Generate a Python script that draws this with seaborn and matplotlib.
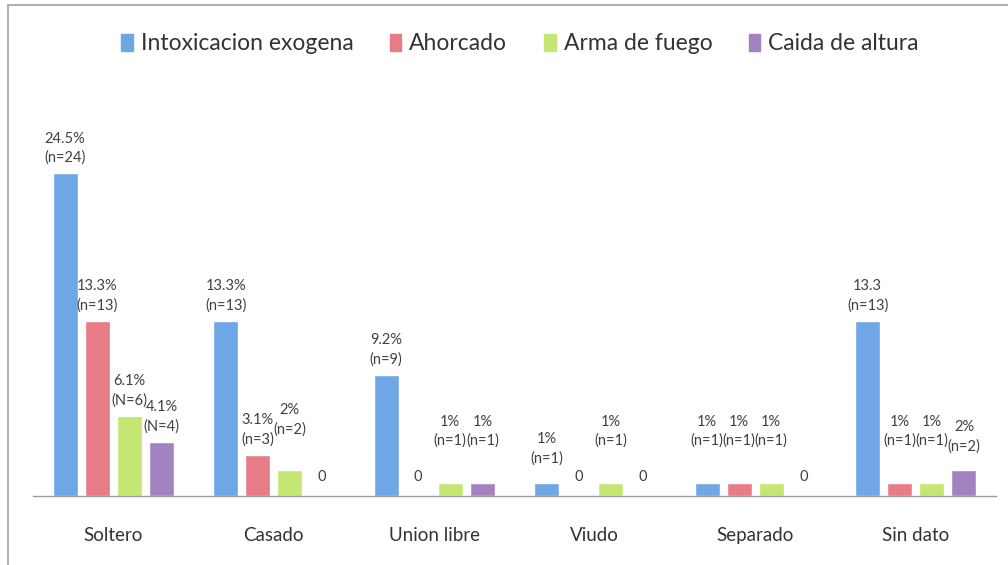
import numpy as np
import pandas as pd
import matplotlib
matplotlib.use("Agg")
import matplotlib.pyplot as plt
from matplotlib.lines import Line2D
import seaborn as sns

# Data (percent of cases)
estado_civil = ["Soltero", "Casado", "Union libre", "Viudo", "Separado", "Sin dato"]
metodos = ["Intoxicacion exogena", "Ahorcado", "Arma de fuego", "Caida de altura"]

intoxicacion = [24.5, 13.3, 9.2, 1, 1, 13.3]
ahorcado = [13.3, 3.1, 0, 0, 1, 1]
arma_fuego = [6.1, 2, 1, 1, 1, 1]
caida_altura = [4.1, 0, 1, 0, 0, 2]

etiq_intoxicacion = ["24.5%\n(n=24)", "13.3%\n(n=13)", "9.2%\n(n=9)", "1%\n(n=1)", "1%\n(n=1)", "13.3\n(n=13)"]
etiq_ahorcado = ["13.3%\n(n=13)", "3.1%\n(n=3)", "0", "0", "1%\n(n=1)", "1%\n(n=1)"]
etiq_arma = ["6.1%\n(N=6)", "2%\n(n=2)", "1%\n(n=1)", "1%\n(n=1)", "1%\n(n=1)", "1%\n(n=1)"]
etiq_caida = ["4.1%\n(N=4)", "0", "1%\n(n=1)", "0", "0", "2%\n(n=2)"]

colores = ["#6ea6e6", "#e77b86", "#c6e673", "#a283c0"]

# label heights in the original were nudged by hand
min_label_y = 3.0
label_overrides = {("Casado", "Arma de fuego"): 3.9,
                   ("Viudo", "Intoxicacion exogena"): 1.7,
                   ("Sin dato", "Caida de altura"): 2.6}

valores = [intoxicacion, ahorcado, arma_fuego, caida_altura]
etiquetas = [etiq_intoxicacion, etiq_ahorcado, etiq_arma, etiq_caida]

df = pd.DataFrame({
    "estado": estado_civil * len(metodos),
    "metodo": np.repeat(metodos, len(estado_civil)),
    "pct": np.concatenate(valores),
    "etiqueta": sum(etiquetas, []),
})

sns.set_theme(style="white")
plt.rcParams["font.family"] = ["Lato", "DejaVu Sans"]

fig = plt.figure(figsize=(10.08, 5.65), dpi=100)
ax = fig.add_axes([33 / 1008, 69 / 565, 963 / 1008, 395 / 565])

sns.barplot(data=df, x="estado", y="pct", hue="metodo", order=estado_civil,
            hue_order=metodos, palette=colores, width=0.8, gap=0.22,
            saturation=1, ax=ax, legend=False)

ax.set_ylim(0, 30)
ax.set_xlim(-0.5, len(estado_civil) - 0.5)
ax.set_xlabel("")
ax.set_ylabel("")
ax.set_yticks([])
for s in ["top", "right", "left"]:
    ax.spines[s].set_visible(False)
ax.spines["bottom"].set_color("#9a9a9a")
ax.spines["bottom"].set_linewidth(1.0)
ax.tick_params(axis="x", length=0, pad=22, labelsize=13.5, labelcolor="#333333")

# data labels
for j, metodo in enumerate(metodos):
    for i, estado in enumerate(estado_civil):
        v = valores[j][i]
        txt = etiquetas[j][i]
        x = i + (j - 1.5) * 0.2
        if v == 0:
            ax.annotate(txt, (x, 0), xytext=(0, 14), textcoords="offset points",
                        ha="center", va="center", fontsize=10.5, color="#404040")
            continue
        y = label_overrides.get((estado, metodo), max(v, min_label_y))
        ax.annotate(txt, (x, y), xytext=(0, 6), textcoords="offset points",
                    ha="center", va="bottom", fontsize=10.5, color="#404040",
                    linespacing=1.45)

# legend across the top
handles = [plt.Rectangle((0, 0), 1, 1, color=c) for c in colores]
fig.legend(handles, metodos, loc="center", bbox_to_anchor=(520 / 1008, 1 - 44 / 565),
           ncol=4, frameon=False, fontsize=16.5, handlelength=0.5, handleheight=0.7,
           handletextpad=0.35, columnspacing=1.6, labelcolor="#333333")

# frame edges of the scanned figure
fig.add_artist(Line2D([8 / 1008, 8 / 1008], [0, 1 - 5 / 565], color="#b0b0b0", lw=1.5))
fig.add_artist(Line2D([8 / 1008, 1], [1 - 5 / 565, 1 - 5 / 565], color="#b0b0b0", lw=1.5))

fig.savefig("out.png", dpi=100)
